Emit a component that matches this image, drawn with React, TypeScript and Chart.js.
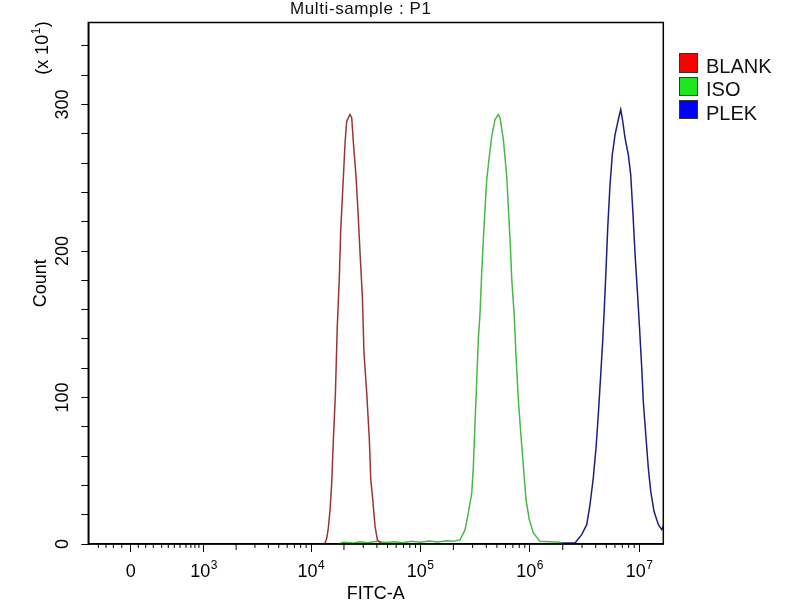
import { useEffect, useRef } from 'react'
import { Chart, registerables } from 'chart.js'
Chart.register(...registerables)

const FONT = '"Liberation Sans", Arial, sans-serif'

const SERIES_LABELS = ['BLANK', 'ISO', 'PLEK']
const LINE_COLORS = ['#9a3535', '#46b946', '#1e1e82']
const LEGEND_COLORS = ['#ff0000', '#1ee61e', '#0000ff']

// [FITC-A position in decades, count (x10)]
const BLANK_PTS = [
    [4.098, 0], [4.128, 0.6], [4.144, 4.1], [4.158, 10.9], [4.174, 23.4], [4.189, 41.7],
    [4.204, 71.2], [4.222, 100.8], [4.240, 148.6], [4.259, 182.7], [4.271, 213.5], [4.290, 242.0],
    [4.311, 273.9], [4.326, 288.6], [4.356, 293.2], [4.372, 290.9], [4.387, 273.9], [4.411, 251.0],
    [4.430, 226.0], [4.448, 198.7], [4.469, 169.1], [4.484, 130.4], [4.509, 103.1], [4.533, 71.2],
    [4.546, 44.0], [4.564, 30.4], [4.585, 12.2], [4.606, 2.9], [4.646, 0],
]
const ISO_PTS = [
    [4.25, 0], [4.30, 1.2], [4.38, 0.6], [4.45, 1.5], [4.52, 0.8], [4.60, 1.8], [4.68, 1.0],
    [4.76, 1.6], [4.84, 0.9], [4.92, 1.9], [5.00, 1.2], [5.08, 2.0], [5.16, 1.4], [5.24, 2.2],
    [5.30, 1.8], [5.362, 2.9], [5.408, 9.8], [5.438, 21.2], [5.469, 34.8], [5.484, 53.0],
    [5.499, 82.6], [5.515, 112.2], [5.529, 139.5], [5.545, 157.8], [5.560, 185.1], [5.575, 207.8],
    [5.590, 228.3], [5.606, 248.8], [5.630, 264.7], [5.652, 278.4], [5.682, 289.8], [5.712, 293.2],
    [5.728, 290.9], [5.758, 276.1], [5.789, 251.0], [5.803, 230.6], [5.819, 207.8], [5.835, 180.5],
    [5.856, 157.8], [5.874, 128.1], [5.895, 98.5], [5.917, 75.8], [5.941, 53.0], [5.965, 30.3],
    [5.995, 16.6], [6.032, 7.5], [6.093, 1.8], [6.185, 1.5], [6.27, 1.2], [6.30, 0],
]
const PLEK_PTS = [
    [6.276, 0.7], [6.413, 0.7], [6.474, 6.4], [6.520, 13.2], [6.550, 26.8], [6.580, 45.1],
    [6.605, 65.6], [6.626, 88.3], [6.648, 115.6], [6.666, 138.4], [6.681, 161.2], [6.697, 188.5],
    [6.712, 215.8], [6.733, 245.4], [6.754, 265.9], [6.779, 279.5], [6.809, 289.8], [6.831, 296.6],
    [6.849, 288.6], [6.870, 277.3], [6.900, 265.9], [6.922, 252.2], [6.943, 224.9], [6.962, 197.6],
    [6.983, 172.5], [7.001, 149.8], [7.023, 120.2], [7.037, 97.4], [7.062, 72.4], [7.083, 51.9],
    [7.105, 35.9], [7.135, 22.3], [7.175, 13.2], [7.206, 9.8], [7.227, 13.2],
]
const SERIES = [BLANK_PTS, ISO_PTS, PLEK_PTS]

const X_MIN = 1.964
const X_MAX = 7.22
const X_TICKS = [2.352, 3.02, 4, 5, 6, 7]
const X_TICK_BASES = ['0', '10', '10', '10', '10', '10']
const X_TICK_EXPONENTS = ['', '3', '4', '5', '6', '7']
const X_MID_TICKS = [3.315, 4.301, 5.301, 6.301]
const X_MINOR_TICKS = [
    2.056, 2.126, 2.193, 2.270, 2.421, 2.489, 2.558, 2.635, 2.695, 2.750, 2.802, 2.857, 2.902, 2.939, 2.975,
    3.487, 3.610, 3.705, 3.782, 3.848, 3.905, 3.955,
    4.477, 4.602, 4.699, 4.778, 4.845, 4.903, 4.954,
    5.477, 5.602, 5.699, 5.778, 5.845, 5.903, 5.954,
    6.477, 6.602, 6.699, 6.778, 6.845, 6.903, 6.954,
]
const Y_MAX = 356
const Y_STEP = 20
const Y_LABEL_STEP = 100

// "10" with a raised exponent, left edge at x, baseline at y
function drawPower(ctx: CanvasRenderingContext2D, base: string, exp: string, x: number, y: number) {
    ctx.font = `18px ${FONT}`
    ctx.fillText(base, x, y)
    const w = ctx.measureText(base).width
    ctx.font = `12px ${FONT}`
    ctx.fillText(exp, x + w + 0.5, y - 8.5)
}
function powerWidth(ctx: CanvasRenderingContext2D, base: string, exp: string) {
    ctx.font = `18px ${FONT}`
    const w1 = ctx.measureText(base).width
    ctx.font = `12px ${FONT}`
    return w1 + (exp ? ctx.measureText(exp).width + 0.5 : 0)
}

const framePlugin = {
    id: 'frame',
    afterDraw(chart: any) {
        const { ctx, chartArea: { left, top, right, bottom } } = chart
        const xs = chart.scales.x
        ctx.save()
        ctx.strokeStyle = '#000'
        ctx.lineWidth = 1.5
        ctx.strokeRect(left, top, right - left, bottom - top)
        ctx.lineWidth = 1
        const tick = (v: number, len: number) => {
            const px = xs.getPixelForValue(v)
            ctx.beginPath()
            ctx.moveTo(px, bottom)
            ctx.lineTo(px, bottom + len)
            ctx.stroke()
        }
        X_MINOR_TICKS.forEach(v => tick(v, 4))
        X_MID_TICKS.forEach(v => tick(v, 6))

        // x tick labels with superscript exponents
        ctx.fillStyle = '#000'
        ctx.textAlign = 'left'
        ctx.textBaseline = 'alphabetic'
        X_TICKS.forEach((v, i) => {
            const px = xs.getPixelForValue(v)
            const w = powerWidth(ctx, X_TICK_BASES[i], X_TICK_EXPONENTS[i])
            drawPower(ctx, X_TICK_BASES[i], X_TICK_EXPONENTS[i], px - w / 2, bottom + 33)
        })

        // y scale multiplier
        ctx.translate(48, 48)
        ctx.rotate(-Math.PI / 2)
        ctx.font = `18px ${FONT}`
        const w1 = ctx.measureText('(x 10').width
        ctx.font = `12px ${FONT}`
        const w2 = ctx.measureText('1').width
        ctx.font = `18px ${FONT}`
        const w3 = ctx.measureText(')').width
        let x0 = -(w1 + w2 + w3 + 1) / 2
        ctx.fillText('(x 10', x0, 0)
        x0 += w1 + 0.5
        ctx.font = `12px ${FONT}`
        ctx.fillText('1', x0, -8.5)
        x0 += w2 + 0.5
        ctx.font = `18px ${FONT}`
        ctx.fillText(')', x0, 0)
        ctx.restore()
    },
}

export default function App() {
    const canvasRef = useRef<HTMLCanvasElement>(null)
    const chartRef = useRef<Chart | null>(null)

    useEffect(() => {
        if (!canvasRef.current) return
        chartRef.current?.destroy()
        chartRef.current = new Chart(canvasRef.current, {
            type: 'line',
            data: {
                datasets: SERIES.map((pts, i) => ({
                    label: SERIES_LABELS[i],
                    data: pts.map(([x, y]) => ({ x, y })),
                    borderColor: LINE_COLORS[i],
                    borderWidth: 1.5,
                    pointRadius: 0,
                    tension: 0,
                    fill: false,
                })),
            },
            options: {
                responsive: false,
                animation: false,
                layout: { padding: { top: 22.5, right: 136.7, bottom: 0, left: 0 } },
                plugins: {
                    legend: { display: false },
                    title: { display: false },
                    tooltip: { enabled: false },
                },
                scales: {
                    x: {
                        type: 'linear',
                        min: X_MIN,
                        max: X_MAX,
                        afterBuildTicks: (s: any) => { s.ticks = X_TICKS.map(value => ({ value })) },
                        afterFit: (s: any) => { s.height = 56 },
                        ticks: { display: false, autoSkip: false, maxRotation: 0 },
                        grid: { drawOnChartArea: false, tickLength: 8, tickColor: '#000', tickWidth: 1 },
                        border: { color: '#000', width: 1.5 },
                        title: {
                            display: true, text: 'FITC-A', color: '#000',
                            font: { family: FONT, size: 18 }, padding: { top: 0, bottom: -5 },
                        },
                    },
                    y: {
                        min: 0,
                        max: Y_MAX,
                        afterFit: (s: any) => { s.width = 88.3 },
                        ticks: {
                            stepSize: Y_STEP,
                            includeBounds: false,
                            autoSkip: false,
                            minRotation: 90,
                            maxRotation: 90,
                            crossAlign: 'center',
                            padding: 3,
                            color: '#000',
                            font: { family: FONT, size: 18 },
                            callback: (v: any) => (v % Y_LABEL_STEP === 0 ? String(v) : ''),
                        },
                        grid: { drawOnChartArea: false, tickLength: 7, tickColor: '#000', tickWidth: 1 },
                        border: { color: '#000', width: 1.5 },
                        title: {
                            display: true, text: 'Count', color: '#000',
                            font: { family: FONT, size: 18 }, padding: { top: 30, bottom: 0 },
                        },
                    },
                },
            } as any,
            plugins: [framePlugin],
        })
        return () => chartRef.current?.destroy()
    }, [])

    return (
        <div style={{ position: 'absolute', left: 0, top: 0, width: 800, height: 600, background: '#fff', overflow: 'hidden', fontFamily: FONT }}>
            <canvas ref={canvasRef} width={800} height={600} style={{ display: 'block' }} />
            <div style={{ position: 'absolute', left: 290, top: 0, fontSize: 17, lineHeight: '17px', letterSpacing: 0.6, color: '#111', whiteSpace: 'nowrap' }}>
                Multi-sample : P1
            </div>
            {SERIES_LABELS.map((label, i) => (
                <div key={label} style={{ position: 'absolute', left: 679, top: 53.3 + i * 23.4, height: 19.4 }}>
                    <span style={{ position: 'absolute', left: 0, top: 0, width: 17, height: 17.4, background: LEGEND_COLORS[i], border: '1px solid #333' }} />
                    <span style={{ position: 'absolute', left: 27, top: 2.5, fontSize: 20, lineHeight: '20px', color: '#111', whiteSpace: 'nowrap' }}>{label}</span>
                </div>
            ))}
        </div>
    )
}
